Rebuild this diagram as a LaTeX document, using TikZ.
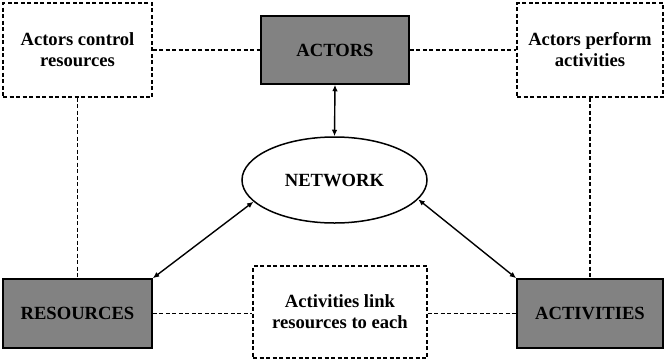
\documentclass[tikz,border=0pt]{standalone}
\usepackage{fontspec}
\setmainfont{Liberation Serif}
\usetikzlibrary{arrows.meta,shapes.geometric}
\definecolor{boxgray}{RGB}{130,130,130}
\begin{document}
\begin{tikzpicture}[x=1pt,y=-1pt,
  font=\fontsize{18.6}{21}\selectfont\bfseries,
  every node/.style={inner sep=0pt, align=center},
  gbox/.style={draw, line width=1.5pt, fill=boxgray, rectangle},
  dbox/.style={draw, line width=1.4pt, dash pattern=on 4pt off 2.5pt, fill=white, rectangle},
  ell/.style={draw, line width=1.5pt, ellipse, fill=white},
  dline/.style={line width=1.4pt, dash pattern=on 4pt off 2.5pt},
  arr/.style={line width=1.4pt, {Latex[length=6.5pt,width=5.5pt]}-{Latex[length=6.5pt,width=5.5pt]}}]
\useasboundingbox (0,0) rectangle (665,360);

% boxes
\node[dbox, minimum width=149pt, minimum height=94pt] (ctrl) at (77.5,50) {Actors control\\resources};
\node[gbox, minimum width=148pt, minimum height=68pt] (actors) at (335,50) {ACTORS};
\node[dbox, minimum width=146pt, minimum height=94pt] (perf) at (590,50) {Actors perform\\activities};
\node[ell, minimum width=185pt, minimum height=86pt] (net) at (334.5,180) {NETWORK};
\node[gbox, minimum width=149pt, minimum height=69pt] (res) at (77.5,313.5) {RESOURCES};
\node[dbox, minimum width=174pt, minimum height=92pt] (link) at (340,312) {Activities link\\resources to each};
\node[gbox, minimum width=146pt, minimum height=69pt] (act) at (590,313.5) {ACTIVITIES};

% dashed relations
\draw[dline] (ctrl.east) -- (actors.west);
\draw[dline] (actors.east) -- (perf.west);
\draw[dline] (ctrl.south) -- (res.north);
\draw[dline] (perf.south) -- (act.north);
\draw[dline] (res.east) -- (res.east -| link.west);
\draw[dline] (act.west -| link.east) -- (act.west);

% links to the network
\draw[arr] (actors.south) -- (net.north);
\draw[arr] (net.195) -- (res.north east);
\draw[arr] (net.347) -- (act.north west);
\end{tikzpicture}
\end{document}
